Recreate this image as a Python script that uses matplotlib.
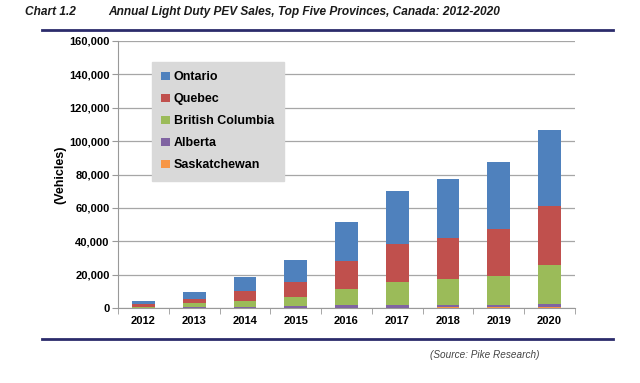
import matplotlib
matplotlib.use("Agg")
import matplotlib.pyplot as plt
import numpy as np
from matplotlib.lines import Line2D

years = ["2012", "2013", "2014", "2015", "2016", "2017", "2018", "2019", "2020"]
alberta = [200, 350, 700, 900, 1300, 1400, 1600, 1600, 2200]
saskatchewan = [50, 80, 120, 150, 200, 250, 300, 300, 350]
bc = [600, 2400, 3400, 5400, 9700, 13800, 15300, 17500, 23000]
quebec = [1300, 2800, 6200, 9400, 17000, 22800, 24900, 28100, 35700]
ontario = [1900, 4000, 8400, 13000, 23500, 31700, 35200, 40200, 45300]

series = [("Saskatchewan", saskatchewan, "#F79646"),
          ("Alberta", alberta, "#8064A2"),
          ("British Columbia", bc, "#9BBB59"),
          ("Quebec", quebec, "#C0504D"),
          ("Ontario", ontario, "#4F81BD")]

plt.rcParams['font.family'] = ['Liberation Sans', 'DejaVu Sans']

fig = plt.figure(figsize=(6.4, 3.83), dpi=100)
ax = fig.add_axes([118/640, 1-308/383, (575-118)/640, (308-41)/383])

x = np.arange(len(years))
bottom = np.zeros(len(years))
handles = {}
for name, vals, col in series:
    b = ax.bar(x, vals, 0.45, bottom=bottom, color=col, label=name, zorder=3)
    handles[name] = b
    bottom += np.array(vals)

ax.set_xlim(-0.5, len(years) - 0.5)
ax.set_ylim(0, 160000)
ax.set_yticks(np.arange(0, 160001, 20000))
ax.set_yticklabels([f"{v:,}" for v in range(0, 160001, 20000)], fontsize=8, fontweight='bold')
ax.set_xticks(x)
ax.set_xticklabels(years, fontsize=8, fontweight='bold')
ax.set_xticks(np.arange(-0.5, len(years), 1), minor=True)
ax.tick_params(axis='x', which='major', length=0, pad=6)
ax.tick_params(axis='x', which='minor', length=4, color='#999999')
ax.tick_params(axis='y', length=4, color='#999999', pad=2)
ax.grid(axis='y', color='#a6a6a6', linewidth=0.9, zorder=0)
for s in ['top', 'right']:
    ax.spines[s].set_visible(False)
for s in ['left', 'bottom']:
    ax.spines[s].set_color('#999999')
ax.set_ylabel("(Vehicles)", fontsize=9, fontweight='bold', labelpad=2)

order = ["Ontario", "Quebec", "British Columbia", "Alberta", "Saskatchewan"]
leg = ax.legend([handles[n] for n in order], order, loc='upper left',
                bbox_to_anchor=((152-118)/457, 1-(62-41)/267),
                frameon=True, fancybox=False, prop={'weight': 'bold', 'size': 9},
                handlelength=0.7, handleheight=0.7, handletextpad=0.3,
                labelspacing=0.8, borderpad=0.75, borderaxespad=0)
leg.get_frame().set_facecolor('#d9d9d9')
leg.get_frame().set_edgecolor('#d9d9d9')
leg.get_frame().set_alpha(1)
leg.set_zorder(5)

tfont = ['Liberation Sans Narrow', 'Liberation Sans', 'DejaVu Sans']
fig.text(25/640, 1-12/383, "Chart 1.2", fontsize=8.6, fontstyle='italic', fontweight='bold',
         family=tfont, color='#1a1a1a', va='center')
fig.text(108/640, 1-12/383, "Annual Light Duty PEV Sales, Top Five Provinces, Canada: 2012-2020",
         fontsize=8.6, fontstyle='italic', fontweight='bold', family=tfont, color='#1a1a1a', va='center')
fig.add_artist(Line2D([42/640, 613/640], [1-30/383, 1-30/383], color='#2b2b6b', linewidth=2))
fig.add_artist(Line2D([42/640, 613/640], [1-339/383, 1-339/383], color='#2b2b6b', linewidth=2))
fig.text(430/640, 1-355/383, "(Source: Pike Research)", fontsize=7.2, fontstyle='italic',
         family=tfont, color='#444444', va='center')

fig.savefig("out.png", dpi=100)
